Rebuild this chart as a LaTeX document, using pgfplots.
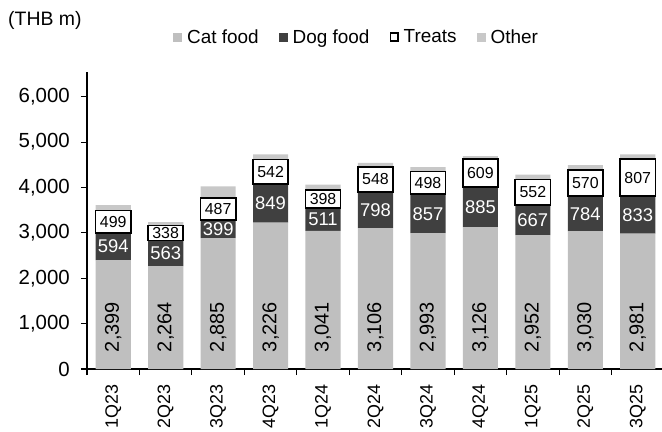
\documentclass[border=0pt]{standalone}
\usepackage{fontspec}
\setmainfont{Liberation Sans}
\usepackage{pgfplots}
\usepackage{pgfplotstable}
\pgfplotsset{compat=1.18}

\definecolor{catgray}{RGB}{191,191,191}
\definecolor{doggray}{RGB}{64,64,64}
\definecolor{othergray}{RGB}{200,200,200}

\pgfkeys{/pgf/number format/.cd, assume math mode=true, 1000 sep={,}}

% Quarterly sales by segment (THB m)
\pgfplotstableread{
x q    cat  dog treats other
0 1Q23 2399 594 499    120
1 2Q23 2264 563 338    70
2 3Q23 2885 399 487    250
3 4Q23 3226 849 542    110
4 1Q24 3041 511 398    110
5 2Q24 3106 798 548    90
6 3Q24 2993 857 498    100
7 4Q24 3126 885 609    70
8 1Q25 2952 667 552    110
9 2Q25 3030 784 570    110
10 3Q25 2981 833 807   110
}\sales

\pgfplotsset{
  petbase/.style={
    scale only axis, width=577bp, height=297.3bp,
    xmin=-0.5, xmax=10.5, ymin=0, ymax=6550,
    at={(0,0)}, anchor=south west, clip=false,
  },
  sq/.style={legend image code/.code={
    \fill[##1] (0bp,-4.5bp) rectangle (9bp,4.5bp);}},
}

\newcommand\fs[1]{\fontsize{#1}{#1}\selectfont}

\begin{document}
\begin{tikzpicture}
\useasboundingbox (-87bp,-63bp) rectangle (575bp,369bp);

% stacked bars, axes and legend
\begin{axis}[petbase,
  ybar stacked, bar width=0.67,
  axis lines*=left,
  axis line style={line width=1.3bp, black},
  tick align=outside,
  ytick={0,1000,...,6000},
  major tick length=6bp,
  ytick style={line width=1.1bp, black},
  xtick={0,...,10},
  xticklabels from table={\sales}{q},
  major x tick style={draw=none},
  minor xtick={-0.5,0.5,...,10.5},
  minor tick length=6bp,
  minor x tick style={line width=1.1bp, black},
  yticklabel style={font=\fs{20.5}, anchor=east, inner sep=0pt, xshift=-11bp},
  xticklabel style={font=\fs{18}, rotate=90, anchor=east, inner sep=0pt, inner xsep=9bp},
  legend columns=4,
  legend style={draw=none, fill=none, font=\fs{19},
    at={(0.149,1.1167)}, anchor=west, inner sep=0pt,
    nodes={inner xsep=2bp, inner ysep=0pt},
    /tikz/every odd column/.append style={column sep=3bp},
    /tikz/every even column/.append style={column sep=18bp}},
]
\addplot[fill=catgray, draw=none, sq] table[x=x, y=cat]{\sales};
\addlegendentry{Cat food}
\addplot[fill=doggray, draw=none, sq] table[x=x, y=dog]{\sales};
\addlegendentry{Dog food}
\addplot[fill=white, draw=none,
  legend image code/.code={\draw[fill=white, draw=black, line width=1.3bp] (0.6bp,-3.9bp) rectangle (8.4bp,3.9bp);}]
  table[x=x, y=treats]{\sales};
\addlegendentry{Treats}
\addplot[fill=othergray, draw=none, sq] table[x=x, y=other]{\sales};
\addlegendentry{Other}
\end{axis}

% outlined treats segments drawn above the other segments
\begin{axis}[petbase, hide axis, ybar stacked, bar width=0.67]
\addplot[draw=none, fill=none] table[x=x, y=cat]{\sales};
\addplot[draw=none, fill=none] table[x=x, y=dog]{\sales};
\addplot[fill=white, draw=black, line width=1.6bp] table[x=x, y=treats]{\sales};
\end{axis}

% value labels
\begin{axis}[petbase, hide axis]
\addplot[draw=none, mark=none, point meta=explicit, nodes near coords,
  nodes near coords style={rotate=90, anchor=west, inner sep=0pt, font=\fs{20}, text=black}]
  table[x=x, y expr=370, meta=cat]{\sales};
\addplot[draw=none, mark=none, point meta=explicit, nodes near coords,
  nodes near coords style={anchor=center, inner sep=0pt, font=\fs{18.5}, text=white}]
  table[x=x, y expr=\thisrow{cat}+\thisrow{dog}/2, meta=dog]{\sales};
\addplot[draw=none, mark=none, point meta=explicit, nodes near coords,
  nodes near coords style={anchor=center, inner sep=0pt, font=\fs{16}, text=black}]
  table[x=x, y expr=\thisrow{cat}+\thisrow{dog}+\thisrow{treats}/2, meta=treats]{\sales};
\end{axis}

\node[anchor=west, inner sep=0pt, font=\fs{19.5}] at (-79bp,349bp) {(THB m)};
\end{tikzpicture}
\end{document}
